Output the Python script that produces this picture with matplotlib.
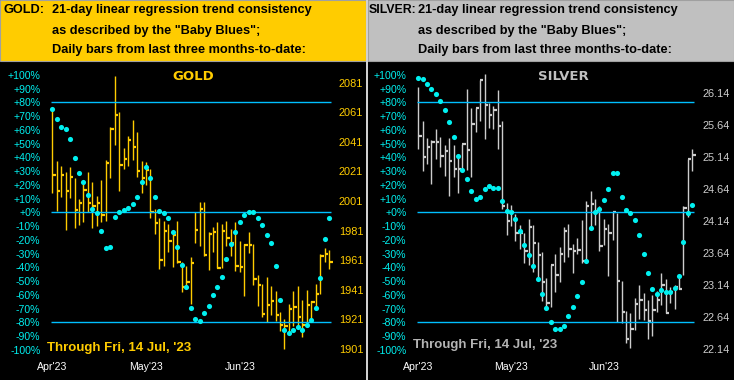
import numpy as np
import matplotlib
matplotlib.use("Agg")
import matplotlib.pyplot as plt
from matplotlib.patches import Rectangle

W, H = 734, 380

# ---- data ----
gold_high = [2062.0, 2028.3, 2024.9, 2020.4, 2024.2, 2016.8, 2002.4, 2014.7, 2020.4, 2013.6,
             2004.2, 2015.4, 2028.9, 2050.8, 2085.7, 2061.4, 2036.8, 2045.1, 2056.0, 2047.8,
             2028.3, 2027.6, 2022.6, 1995.6, 1989.3, 1987.7, 1985.2, 1980.7, 1987.7, 1959.6,
             1957.3, 1962.9, 1993.3, 2000.5, 2000.5, 1980.3, 1983.2, 1986.6, 1985.5, 1987.7,
             1982.1, 1986.6, 1974.2, 1972.0, 1980.3, 1972.0, 1951.0, 1944.9, 1949.4, 1943.3,
             1940.4, 1926.2, 1921.3, 1931.2, 1939.9, 1943.3, 1934.3, 1941.1, 1933.7, 1944.7,
             1965.2, 1969.0, 1968.1]
gold_low = [2006.4, 1994.5, 2003.5, 1981.6, 2002.8, 1982.8, 1984.8, 1986.6, 1993.8, 1982.8,
            1984.3, 1986.6, 1987.5, 2016.3, 2038.8, 2008.0, 2022.6, 2024.9, 2028.9, 2017.0,
            2006.4, 2011.8, 1989.3, 1978.7, 1955.1, 1956.9, 1966.8, 1956.2, 1958.9, 1939.7,
            1942.7, 1931.4, 1972.6, 1970.8, 1963.6, 1954.6, 1966.3, 1955.5, 1955.5, 1970.8,
            1964.1, 1953.7, 1953.3, 1937.0, 1965.9, 1944.2, 1930.3, 1922.4, 1919.5, 1924.0,
            1920.1, 1913.4, 1901.0, 1910.9, 1916.8, 1915.6, 1908.9, 1915.6, 1920.1, 1930.3,
            1938.2, 1959.6, 1955.1]
gold_close = [2018.6, 2008.0, 2018.6, 2008.0, 2017.2, 1995.1, 1999.6, 2008.7, 1999.6, 1997.8,
              1999.6, 1991.8, 2026.7, 2049.6, 2059.1, 2025.3, 2029.6, 2042.2, 2037.5, 2021.3,
              2016.8, 2021.9, 1993.8, 1986.1, 1961.1, 1980.5, 1974.0, 1978.0, 1959.6, 1942.7,
              1946.0, 1959.1, 1981.4, 1995.6, 1964.3, 1978.7, 1979.8, 1955.7, 1981.0, 1976.0,
              1972.6, 1957.3, 1956.6, 1971.3, 1971.3, 1948.3, 1944.5, 1924.6, 1931.0, 1933.4,
              1924.0, 1917.2, 1916.8, 1928.0, 1929.4, 1922.8, 1917.2, 1930.7, 1932.5, 1938.4,
              1964.1, 1965.2, 1960.0]
gold_trend = [75.4, 68.1, 62.3, 60.8, 53.6, 39.8, 28.8, 22.3, 12.8, 2.7,
              -0.2, -13.3, -25.7, -25.0, -3.2, 0.5, 1.9, 3.4, 6.3, 11.4,
              22.3, 33.2, 25.2, 11.4, 1.2, -0.2, -3.9, -14.1, -25.0, -38.1,
              -54.1, -69.3, -77.3, -78.8, -73.0, -67.9, -59.9, -54.1, -46.8, -33.7,
              -22.8, -14.1, -6.8, -1.7, 0.5, 0.5, -3.9, -9.0, -16.2, -22.1,
              -38.8, -63.5, -85.3, -87.5, -85.3, -83.2, -85.3, -81.7, -78.1, -69.3,
              -47.5, -19.2, -3.9]

silver_high = [26.23, 25.71, 25.44, 25.41, 25.58, 25.46, 25.32, 25.44, 25.33, 25.19,
               25.35, 26.21, 25.91, 25.90, 26.35, 26.43, 25.99, 25.93, 26.19, 25.70,
               24.42, 24.39, 24.25, 24.07, 23.96, 24.17, 24.07, 23.81, 23.66, 23.25,
               23.46, 23.63, 23.74, 24.05, 24.10, 23.78, 23.88, 24.16, 24.45, 24.61,
               24.49, 24.37, 24.17, 24.10, 24.28, 24.26, 23.21, 22.74, 22.71, 22.94,
               23.14, 23.02, 22.90, 22.99, 23.05, 23.32, 23.23, 23.11, 23.14, 23.27,
               24.38, 25.11, 25.26]
silver_low = [25.27, 24.92, 25.03, 24.72, 25.11, 24.98, 24.84, 24.53, 24.82, 24.57,
              24.94, 24.94, 24.82, 25.53, 25.71, 25.42, 25.60, 25.58, 25.27, 24.33,
              23.92, 24.06, 23.83, 23.71, 23.49, 23.45, 23.35, 23.25, 22.89, 22.80,
              22.80, 23.03, 23.18, 23.50, 23.58, 23.32, 23.63, 23.48, 23.51, 24.05,
              24.08, 23.67, 23.76, 23.28, 23.84, 22.56, 22.54, 22.24, 22.15, 22.43,
              22.61, 22.59, 22.30, 22.35, 22.72, 22.82, 22.71, 22.86, 22.77, 23.08,
              23.30, 24.20, 24.92]
silver_close = [25.47, 25.14, 25.30, 25.37, 25.37, 25.16, 25.24, 25.07, 24.96, 24.96,
                25.35, 25.25, 25.66, 25.90, 26.35, 25.95, 25.80, 25.87, 25.63, 24.38,
                24.14, 24.28, 23.95, 23.95, 23.67, 24.04, 23.79, 23.61, 23.19, 22.86,
                23.46, 23.29, 23.62, 23.99, 23.70, 23.67, 23.69, 23.52, 24.38, 24.41,
                24.30, 23.75, 24.01, 23.95, 24.28, 23.21, 22.72, 22.29, 22.46, 22.84,
                22.91, 22.75, 22.57, 22.75, 22.90, 23.14, 22.71, 23.03, 23.11, 23.08,
                24.35, 25.11, 25.17]
silver_trend = [97.9, 96.7, 93.6, 89.9, 86.3, 81.2, 74.7, 65.9, 55.0, 41.2,
                31.0, 24.5, 15.8, 9.9, 11.4, 17.2, 19.4, 17.9, 17.9, 8.5,
                1.2, 0.5, -4.6, -13.3, -23.5, -30.8, -38.8, -48.2, -59.2, -69.3,
                -79.5, -84.6, -84.6, -82.4, -75.2, -68.6, -60.6, -50.4, -35.2, -11.2,
                0.5, 2.7, 9.2, 17.2, 28.8, 28.8, 11.4, 1.9, -0.2, -5.3,
                -16.2, -30.1, -43.9, -55.5, -59.2, -56.2, -57.7, -57.7, -54.8, -46.1,
                -21.3, -0.2, 5.6]

month_labels = ["Apr'23", "May'23", "Jun'23"]
month_pos = [0, 21, 42]
pct_ticks = list(range(-100, 101, 10))
gold_price_ticks = [1901, 1921, 1941, 1961, 1981, 2001, 2021, 2041, 2061, 2081]
silver_price_ticks = [22.14, 22.64, 23.14, 23.64, 24.14, 24.64, 25.14, 25.64, 26.14]
signal_levels = [80, 0, -80]

CYAN = "#00F0F0"
LINE = "#00BFFF"
GOLD = "#FFCC00"
SILV = "#CDCDCD"

fig = plt.figure(figsize=(W / 100, H / 100), dpi=100, facecolor="black")


def px_axes(x, y, w, h):
    return fig.add_axes([x / W, 1 - (y + h) / H, w / W, h / H])


def fx(x):
    return x / W


def fy(y):
    return 1 - y / H


# header boxes
fig.patches.append(Rectangle((fx(0), fy(61)), fx(366), 61 / H, transform=fig.transFigure,
                             facecolor=GOLD, edgecolor="#A0A0A0", lw=0.8))
fig.patches.append(Rectangle((fx(368), fy(61)), fx(366), 61 / H, transform=fig.transFigure,
                             facecolor="#C0C0C0", edgecolor="#A0A0A0", lw=0.8))
fig.patches.append(Rectangle((fx(366), 0), fx(2), 1, transform=fig.transFigure,
                             facecolor="#D0D0D0", edgecolor="none"))

hdr = dict(fontfamily="Liberation Sans", fontweight="bold", fontsize=9.2, color="black", va="center")
fig.text(fx(4), fy(10), "GOLD:", **hdr)
fig.text(fx(52), fy(10), "21-day linear regression trend consistency", **hdr)
fig.text(fx(52), fy(31), 'as described by the "Baby Blues";', **hdr)
fig.text(fx(52), fy(50), "Daily bars from last three months-to-date:", **hdr)
fig.text(fx(369), fy(10), "SILVER:", **{**hdr, "fontsize": 8.8})
fig.text(fx(418), fy(10), "21-day linear regression trend consistency", **hdr)
fig.text(fx(418), fy(31), 'as described by the "Baby Blues";', **hdr)
fig.text(fx(418), fy(50), "Daily bars from last three months-to-date:", **hdr)


def panel(x0, w, first_x, step, pmin, pscale, high, low, close, trend, price_ticks,
          fmt, bar_col, name, name_x, foot_y):
    ax = px_axes(x0, 70, w, 285)
    ax.set_facecolor("black")
    n = len(close)
    days = np.arange(n)
    ax.set_xlim((x0 - first_x) / step, (x0 + w - first_x) / step)
    # price axis: px y -> price
    ax.set_ylim(pmin + (349 - 355) / pscale, pmin + (349 - 70) / pscale)
    ax.vlines(days, low, high, color=bar_col, lw=1.0)
    ax.hlines(close, days, days + 0.75, color=bar_col, lw=1.6)
    ax.set_xticks(month_pos)
    ax.set_xticklabels(month_labels, fontfamily="Liberation Sans", fontsize=7.6, color="white")
    ax.tick_params(axis="x", length=0, pad=5)
    for s in ax.spines.values():
        s.set_visible(False)

    tw = ax.twinx()
    tw.set_ylim(-103.8, 103.5)
    tw.yaxis.tick_left()
    tw.yaxis.set_label_position("left")
    tw.set_yticks(pct_ticks)
    tw.set_yticklabels([("+" if v >= 0 else "") + f"{v}%" for v in pct_ticks],
                       fontfamily="Liberation Sans", fontsize=7.6, color=CYAN)
    tw.tick_params(axis="y", length=0, pad=4)
    for s in tw.spines.values():
        s.set_visible(False)
    tw.hlines(signal_levels, -0.3, n - 0.6, color=LINE, lw=1.0)
    tw.plot(days, trend, "o", color=CYAN, ms=3.7, mec="none")

    # price labels on the right (after twinx, which resets the sides)
    ax.yaxis.tick_right()
    ax.set_yticks(price_ticks)
    ax.set_yticklabels([fmt.format(v) for v in price_ticks], fontfamily="Liberation Sans",
                       fontsize=7.9, color=bar_col)
    ax.tick_params(axis="y", length=0, pad=2, labelleft=False, labelright=True)

    fig.text(fx(name_x), fy(76), name, fontfamily="DejaVu Sans", fontweight="bold",
             fontsize=9.5, color=bar_col if name == "GOLD" else "#C0C0C0",
             ha="center", va="center")
    fig.text(fx(x0 + 1), fy(foot_y), "Through Fri, 14 Jul, '23", fontfamily="Liberation Sans",
             fontweight="bold", fontsize=9.5,
             color=bar_col if name == "GOLD" else "#B4B4B4", va="center")


panel(46, 290, 52.2, 4.467, 1901, 1.48, gold_high, gold_low, gold_close, gold_trend,
      gold_price_ticks, "{:.0f}", GOLD, "GOLD", 193, 348)
panel(412, 288, 418.2, 4.42, 22.14, 64.0, silver_high, silver_low, silver_close, silver_trend,
      silver_price_ticks, "{:.2f}", SILV, "SILVER", 563, 345)

fig.savefig("out.png", dpi=100, facecolor="black")
